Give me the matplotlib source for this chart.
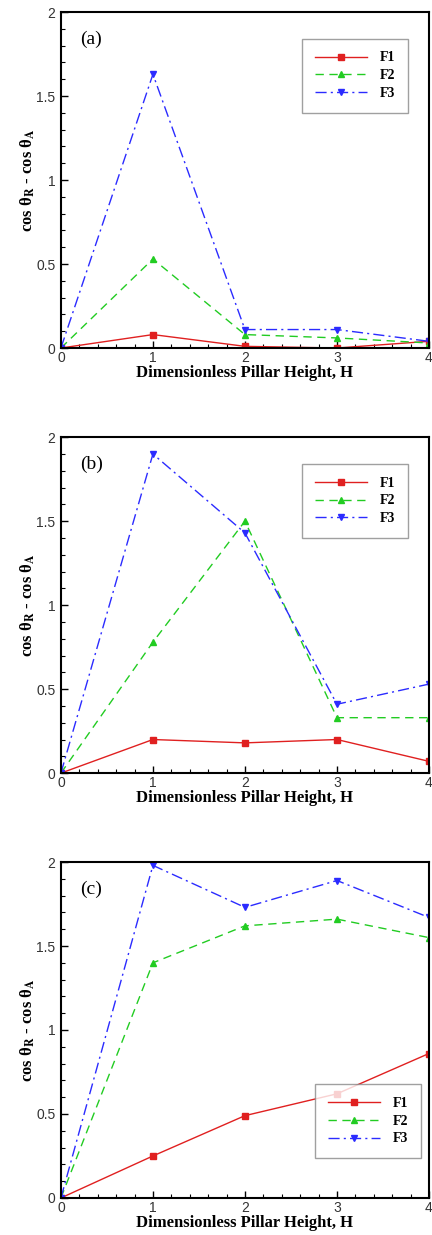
import numpy as np
import matplotlib.pyplot as plt
from matplotlib.ticker import MultipleLocator

H = [0, 1, 2, 3, 4]

# panel (a)
a_f1 = [0, 0.08, 0.01, 0.0, 0.04]
a_f2 = [0, 0.53, 0.08, 0.06, 0.03]
a_f3 = [0, 1.63, 0.11, 0.11, 0.04]
# panel (b)
b_f1 = [0, 0.20, 0.18, 0.20, 0.07]
b_f2 = [0, 0.78, 1.50, 0.33, 0.33]
b_f3 = [0, 1.90, 1.43, 0.41, 0.53]
# panel (c)
c_f1 = [0, 0.25, 0.49, 0.62, 0.86]
c_f2 = [0, 1.40, 1.62, 1.66, 1.55]
c_f3 = [0, 1.98, 1.73, 1.89, 1.67]

panel_names = ['(a)', '(b)', '(c)']
series_names = ['F1', 'F2', 'F3']
panels = [(a_f1, a_f2, a_f3), (b_f1, b_f2, b_f3), (c_f1, c_f2, c_f3)]

colors = ['#e02020', '#22cc22', '#2b2bff']
markers = ['s', '^', 'v']
styles = ['-', (0, (6, 4)), (0, (8, 3, 1.5, 3))]

plt.rcParams['mathtext.fontset'] = 'stix'

fig = plt.figure(figsize=(4.32, 12.35), dpi=100)
bottoms = [0.7182, 0.374, 0.030]
serif = 'Liberation Serif'
sans = 'Liberation Sans'

for i, (name, data) in enumerate(zip(panel_names, panels)):
    ax = fig.add_axes([0.141, bottoms[i], 0.852, 0.272])
    for y, lab, c, m, ls in zip(data, series_names, colors, markers, styles):
        ax.plot(H, y, color=c, marker=m, linestyle=ls, lw=1.0, ms=5, label=lab)
    ax.set_xlim(0, 4)
    ax.set_ylim(0, 2)
    ax.set_xticks([0, 1, 2, 3, 4])
    ax.set_yticks([0, 0.5, 1, 1.5, 2])
    ax.set_yticklabels(['0', '0.5', '1', '1.5', '2'])
    ax.xaxis.set_minor_locator(MultipleLocator(0.2))
    ax.yaxis.set_minor_locator(MultipleLocator(0.1))
    ax.tick_params(which='both', direction='in', top=False, right=False, labelsize=10)
    ax.tick_params(axis='x', pad=2)
    ax.tick_params(axis='y', pad=4)
    ax.tick_params(which='major', length=5, width=1)
    ax.tick_params(which='minor', length=3, width=0.8)
    for t in ax.get_xticklabels() + ax.get_yticklabels():
        t.set_fontfamily(sans)
        t.set_color('#333333')
    for s in ax.spines.values():
        s.set_linewidth(1.5)
    ax.set_xlabel('Dimensionless Pillar Height, H', fontfamily=serif,
                  fontweight='bold', fontsize=12, labelpad=0)
    ax.set_ylabel(r'cos θ$_\mathbf{R}$ - cos θ$_\mathbf{A}$', fontfamily=serif,
                  fontweight='bold', fontsize=12, labelpad=-1)
    ax.text(0.052, 0.92, name, transform=ax.transAxes, fontfamily=serif,
            fontsize=14, va='center', ha='left')
    if i < 2:
        leg = ax.legend(loc='upper right', bbox_to_anchor=(0.943, 0.92), borderaxespad=0,
                        handlelength=3.8, fancybox=False, edgecolor='#888888',
                        prop={'family': serif, 'weight': 'bold', 'size': 10},
                        borderpad=0.9, labelspacing=0.35, handletextpad=0.9)
    else:
        leg = ax.legend(loc='lower right', bbox_to_anchor=(0.978, 0.119), borderaxespad=0,
                        handlelength=3.8, fancybox=False, edgecolor='#888888',
                        prop={'family': serif, 'weight': 'bold', 'size': 10},
                        borderpad=0.9, labelspacing=0.35, handletextpad=0.9)
    leg.get_frame().set_linewidth(1.0)

fig.savefig('out.png', dpi=100)
